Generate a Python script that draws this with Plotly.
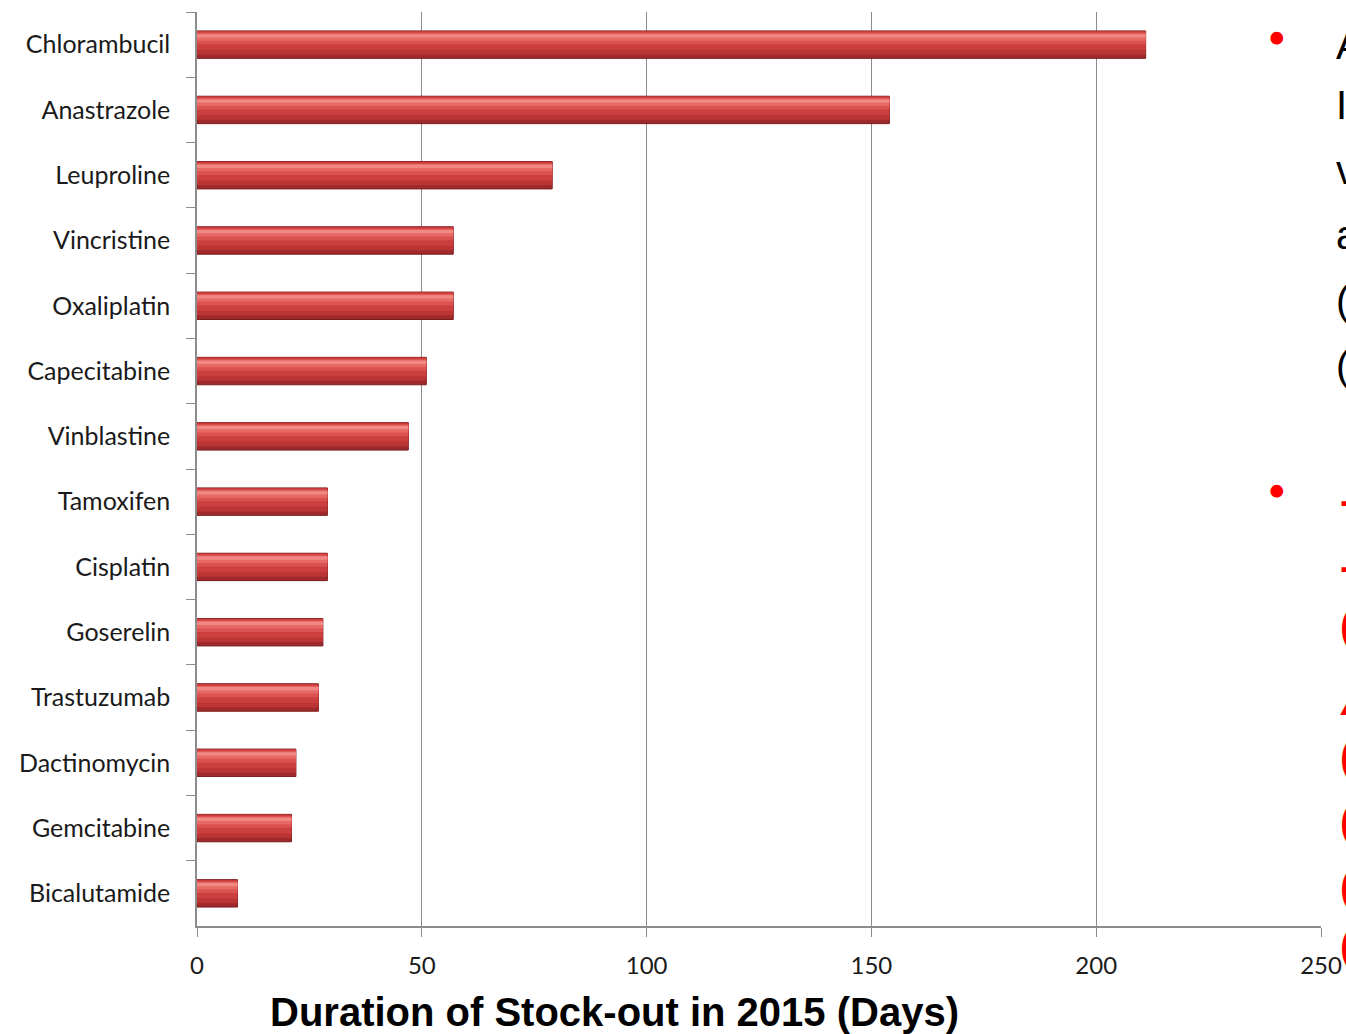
import plotly.graph_objects as go

drugs = ["Chlorambucil", "Anastrazole", "Leuproline", "Vincristine", "Oxaliplatin",
         "Capecitabine", "Vinblastine", "Tamoxifen", "Cisplatin", "Goserelin",
         "Trastuzumab", "Dactinomycin", "Gemcitabine", "Bicalutamide"]
days = [211, 154, 79, 57, 57, 51, 47, 29, 29, 28, 27, 22, 21, 9]
x_ticks = [0, 50, 100, 150, 200, 250]
axis_title = "Duration of Stock-out in 2015 (Days)"

fig = go.Figure()
# layered shading to imitate the cylinder-like bars
layers = [  # (width, offset, color)
    (0.42, -0.21, "#a02a2b"),
    (0.36, -0.21, "#bb3535"),
    (0.28, -0.20, "#cb3f3e"),
    (0.18, -0.185, "#db5250"),
    (0.11, -0.17, "#e76966"),
    (0.05, -0.16, "#f08884"),
]
for i, (w, off, col) in enumerate(layers):
    fig.add_trace(go.Bar(y=drugs, x=days, orientation="h", width=w, offset=off,
                         marker=dict(color=col, line=dict(color="#7a1d1d", width=1 if i == 0 else 0)),
                         hoverinfo="x+y" if i == 0 else "skip", showlegend=False))

fig.update_layout(
    width=1346, height=1034, barmode="overlay",
    margin=dict(l=197, r=25, t=12, b=108, autoexpand=False),
    paper_bgcolor="white", plot_bgcolor="white",
    font=dict(family="Lato, Open Sans, sans-serif", size=24, color="#1a1a1a"),
    xaxis=dict(range=[0, 250], tickvals=x_ticks, showgrid=True, gridcolor="#8c8c8c",
               gridwidth=1, showline=True, linecolor="#8c8c8c", linewidth=1.5,
               ticks="outside", ticklen=9, tickcolor="#8c8c8c", zeroline=False,
               automargin=False, ticklabelstandoff=8,
               tickfont=dict(size=24, color="#1a1a1a")),
    yaxis=dict(autorange="reversed", showline=True, linecolor="#8c8c8c", linewidth=1.5,
               ticks="outside", ticklen=9, tickcolor="#8c8c8c", tickson="boundaries",
               showgrid=False, automargin=False, ticklabelstandoff=20,
               tickfont=dict(size=25, color="#1a1a1a")),
)

fig.add_annotation(text="<b>" + axis_title + "</b>", xref="paper", yref="paper",
                   x=0.371, y=-0.094, xanchor="center", yanchor="middle", showarrow=False,
                   font=dict(family="Liberation Sans, Arial, sans-serif", size=40, color="black"))

# red bullets of the partially visible slide text on the right
for yb in [0.974, 0.478]:
    fig.add_annotation(text="●", xref="paper", yref="paper", x=0.961, y=yb,
                       xanchor="center", yanchor="middle", showarrow=False,
                       font=dict(size=26, color="#ff0000"))

black_chars = ["A", "I", "v", "a", "(", "("]
black_y = [0.964, 0.898, 0.827, 0.756, 0.684, 0.613]
for ch, yy in zip(black_chars, black_y):
    fig.add_annotation(text=ch, xref="paper", yref="paper", x=1.012, y=yy, xanchor="left",
                       yanchor="middle", showarrow=False,
                       font=dict(family="Liberation Sans, Arial", size=40, color="black"))
red_chars = ["-", "-", "(", "<i>A</i>", "(", "(", "(", "("]
red_y = [0.466, 0.394, 0.328, 0.246, 0.185, 0.114, 0.043, -0.022]
for ch, yy in zip(red_chars, red_y):
    fig.add_annotation(text="<b>" + ch + "</b>", xref="paper", yref="paper", x=1.015, y=yy,
                       xanchor="left", yanchor="middle", showarrow=False,
                       font=dict(family="Liberation Sans, Arial", size=40, color="#ff0000"))

fig.write_html("out.html")
